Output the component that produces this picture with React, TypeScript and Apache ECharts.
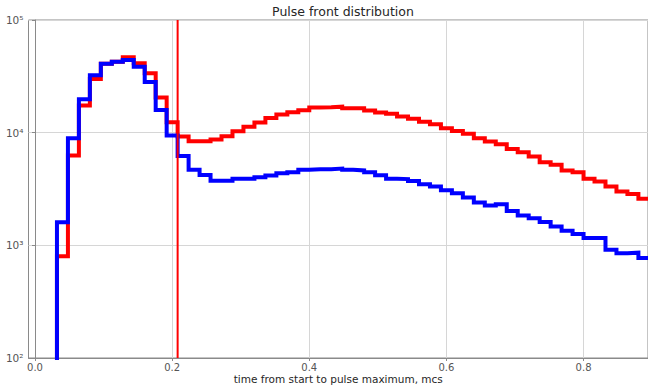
import { useEffect, useRef } from "react";
import * as echarts from "echarts";

// Histogram bins: left edge of first bin and bin width (time, mcs)
const BIN_START = 0.032;
const BIN_WIDTH = 0.016;

// Counts per bin (log scale)
const redCounts = [
  800, 6260, 17400, 30000, 41000, 42700, 46700, 41300, 33700, 20500,
  12400, 9230, 8400, 8400, 8700, 9300, 10300, 11300, 12300, 13500,
  14500, 15200, 15800, 16700, 16800, 17000, 16500, 16500, 15700, 15100,
  14700, 13900, 13300, 12500, 11900, 10950, 10350, 9800, 8930, 8330,
  7900, 7180, 6710, 6130, 5470, 5180, 4610, 4450, 3890, 3680,
  3330, 3000, 2860, 2590,
];
const blueCounts = [
  1600, 8930, 19800, 32300, 41000, 42700, 44200, 38500, 28200, 15900,
  9450, 6220, 4680, 4220, 3750, 3750, 3890, 3890, 4030, 4170,
  4370, 4450, 4680, 4740, 4740, 4800, 4680, 4620, 4450, 4180,
  3900, 3870, 3730, 3490, 3330, 3090, 2900, 2660, 2400, 2260,
  2320, 2020, 1840, 1740, 1610, 1470, 1350, 1260, 1160, 1160,
  912, 850, 860, 770,
];

const cutPosition = 0.208;
const xTickValues = [0, 0.2, 0.4, 0.6, 0.8];
const yLabelText: Record<number, string> = { 2: "10²", 3: "10³", 4: "10⁴", 5: "10⁵" };

function stepData(counts: number[]): number[][] {
  const pts: number[][] = [[BIN_START, 1]];
  counts.forEach((c, i) => {
    pts.push([+(BIN_START + i * BIN_WIDTH).toFixed(4), c]);
  });
  pts.push([+(BIN_START + counts.length * BIN_WIDTH).toFixed(4), counts[counts.length - 1]]);
  return pts;
}

export default function App() {
  const ref = useRef<HTMLDivElement>(null);
  useEffect(() => {
    if (!ref.current) return;
    const chart = echarts.init(ref.current, undefined, { renderer: "svg" });
    const font = "DejaVu Sans";
    chart.setOption({
      animation: false,
      backgroundColor: "#ffffff",
      textStyle: { fontFamily: font },
      title: {
        text: "Pulse front distribution",
        left: 338,
        textAlign: "center",
        top: 0,
        textStyle: { fontFamily: font, fontSize: 12.5, fontWeight: "normal", color: "#262626" },
      },
      grid: {
        left: 28.5,
        right: 0,
        top: 20,
        bottom: 28,
        show: true,
        borderColor: "#8a8a8a",
        borderWidth: 1,
        containLabel: false,
        outerBoundsMode: "none",
      },
      xAxis: {
        type: "value",
        min: -0.0095,
        max: 0.894,
        name: "time from start to pulse maximum, mcs",
        nameLocation: "middle",
        nameGap: 15,
        nameMoveOverlap: false,
        nameTextStyle: { fontFamily: font, fontSize: 10.5, color: "#262626" },
        axisLine: { show: true, lineStyle: { color: "#8a8a8a", width: 1 } },
        axisTick: { show: true, length: 3, customValues: xTickValues, lineStyle: { color: "#8a8a8a" } },
        axisLabel: {
          customValues: xTickValues,
          formatter: (v: number) => v.toFixed(1),
          fontFamily: font,
          fontSize: 10,
          color: "#555555",
          margin: 4,
        },
        splitLine: { show: true, lineStyle: { color: "#d6d6d6", width: 1 } },
      },
      yAxis: {
        type: "log",
        logBase: 10,
        min: 100,
        max: 100000,
        axisLine: { show: true, lineStyle: { color: "#8a8a8a", width: 1 } },
        axisTick: { show: true, length: 3, lineStyle: { color: "#8a8a8a" } },
        axisLabel: {
          formatter: (v: number) => yLabelText[Math.round(Math.log10(v))] ?? "",
          fontFamily: font,
          fontSize: 10.5,
          color: "#555555",
          margin: 5,
        },
        splitLine: { show: true, lineStyle: { color: "#d6d6d6", width: 1 } },
      },
      series: [
        {
          type: "line",
          name: "red",
          step: "end",
          data: stepData(redCounts),
          showSymbol: false,
          symbol: "none",
          clip: true,
          lineStyle: { color: "#ff0000", width: 4, join: "miter", cap: "butt" },
          z: 2,
        },
        {
          type: "line",
          name: "blue",
          step: "end",
          data: stepData(blueCounts),
          showSymbol: false,
          symbol: "none",
          clip: true,
          lineStyle: { color: "#0000ff", width: 4, join: "miter", cap: "butt" },
          z: 3,
        },
        {
          type: "line",
          name: "cut",
          data: [
            [cutPosition, 100],
            [cutPosition, 100000],
          ],
          showSymbol: false,
          symbol: "none",
          lineStyle: { color: "#ff0000", width: 2 },
          z: 4,
        },
      ],
    });
    return () => chart.dispose();
  }, []);
  return (
    <div
      ref={ref}
      style={{ position: "fixed", left: 0, top: 0, width: 648, height: 386, background: "#fff" }}
    />
  );
}
